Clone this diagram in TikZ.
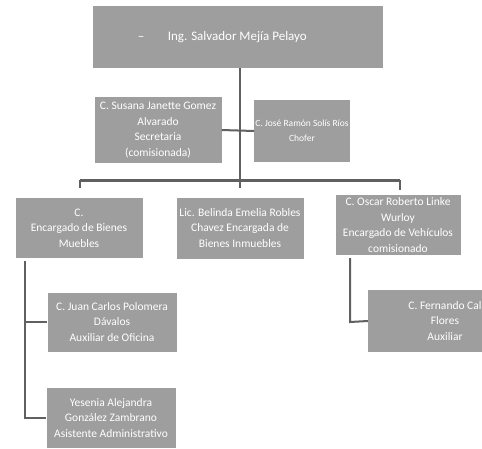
\documentclass[tikz,border=0pt]{standalone}
\usepackage{fontspec}
\setmainfont{Carlito}
\begin{document}
\begin{tikzpicture}[x=1pt,y=-1pt,
  box/.style={draw=none,fill=boxgray,text=white,align=center,inner sep=1pt,
    font=\fontsize{11.5}{15.5}\selectfont,anchor=center},
  conn/.style={draw=linegray,line width=2pt},
  bus/.style={draw=linegray,line width=3pt}]
\definecolor{boxgray}{HTML}{9E9E9E}
\definecolor{linegray}{HTML}{606060}
\useasboundingbox[fill=white] (0,0) rectangle (482,448);
\clip (0,0) rectangle (482,448);
% boxes
\node[box,minimum width=290,minimum height=62,font=\fontsize{13}{16}\selectfont] (top) at (238,37)
  {–\hspace{1.8em}Ing. Salvador Mejía Pelayo\hspace{2.4em}};
\node[box,minimum width=127,minimum height=66] (sec) at (158,130)
  {C. Susana Janette Gomez\\Alvarado\\Secretaria\\(comisionada)};
\node[box,minimum width=95,minimum height=62,font=\fontsize{9.5}{15}\selectfont] (cho) at (302,131)
  {C. José Ramón Solís Ríos\\Chofer};
\node[box,minimum width=127,minimum height=60] (bm) at (79,228)
  {C.\\Encargado de Bienes\\Muebles};
\node[box,minimum width=127,minimum height=61] (bi) at (240,228)
  {Lic. Belinda Emelia Robles\\Chavez Encargada de\\Bienes Inmuebles};
\node[box,minimum width=125,minimum height=60] (veh) at (398,225)
  {C. Oscar Roberto Linke\\Wurloy\\Encargado de Vehículos\\comisionado};
\node[box,minimum width=129,minimum height=59] (jc) at (112,322)
  {C. Juan Carlos Polomera\\Dávalos\\Auxiliar de Oficina};
\node[box,minimum width=129,minimum height=60] (ye) at (111,418)
  {Yesenia Alejandra\\González Zambrano\\Asistente Administrativo};
\node[box,minimum width=154,minimum height=62] (fe) at (445,321)
  {C. Fernando Cal\\Flores\\Auxiliar};
% connectors
\coordinate (busL) at (80,180);
\coordinate (busR) at (400,180);
\coordinate (busM) at (240,180);
\draw[conn] (240,68) -- (busM);
\draw[conn] (sec.east) -- (cho.west);
\draw[bus] (busL) -- (busR);
\coordinate (tL) at (80,188);
\coordinate (tM) at (240,188);
\coordinate (tR) at (400,190);
\draw[conn] (busL) -- (tL);
\draw[conn] (busM) -- (tM);
\draw[conn] (busR) -- (tR);
\coordinate (lTop) at (25,261);
\coordinate (lBot) at (25,418);
\draw[conn] (lTop) -- (lBot) -- (ye.west);
\draw[conn] (25,322) -- (jc.west);
\coordinate (rTop) at (350,258);
\coordinate (rBot) at (350,322);
\draw[conn] (rTop) -- (rBot) -- (fe.west);
\end{tikzpicture}
\end{document}
